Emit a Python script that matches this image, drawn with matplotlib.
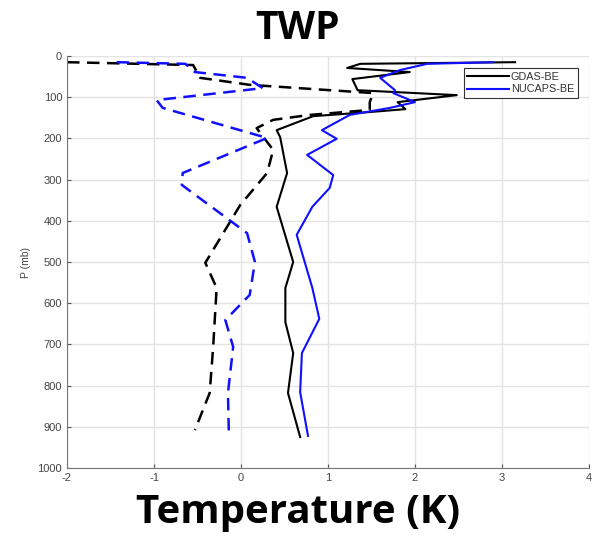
import numpy as np
import matplotlib
matplotlib.use("Agg")
from matplotlib import pyplot as plt

# GDAS-BE (trait plein noir)
P_gdas = [15, 19, 29, 39, 56, 83, 95, 112, 129, 136, 146, 180, 197, 284, 366, 500, 563, 646, 721, 818, 925]
T_gdas = [3.15, 1.37, 1.22, 1.94, 1.28, 1.34, 2.48, 1.80, 1.89, 1.48, 0.83, 0.41, 0.45, 0.53, 0.41, 0.60, 0.51, 0.51, 0.60, 0.54, 0.68]

# NUCAPS-BE (trait plein bleu)
P_nuc = [15, 19, 34, 53, 83, 90, 112, 126, 143, 180, 201, 240, 289, 320, 366, 434, 563, 638, 721, 816, 922]
T_nuc = [2.90, 2.14, 1.83, 1.60, 1.77, 1.75, 2.00, 1.71, 1.25, 0.93, 1.10, 0.76, 1.06, 1.02, 0.82, 0.64, 0.82, 0.90, 0.70, 0.68, 0.77]

# GDAS tirets
P_gdas_d = [15, 22, 53, 70, 90, 112, 131, 143, 155, 175, 228, 284, 362, 502, 563, 706, 818, 908]
T_gdas_d = [-2.0, -0.55, -0.47, 0.10, 1.52, 1.48, 1.48, 0.79, 0.37, 0.18, 0.37, 0.30, -0.01, -0.41, -0.28, -0.32, -0.36, -0.53]

# NUCAPS tirets
P_nuc_d = [15, 19, 39, 53, 78, 107, 126, 199, 284, 313, 430, 500, 580, 641, 706, 818, 913]
T_nuc_d = [-1.43, -0.64, -0.53, 0.07, 0.25, -0.97, -0.90, 0.30, -0.67, -0.68, 0.07, 0.16, 0.10, -0.18, -0.09, -0.15, -0.14]

xticks = [-2, -1, 0, 1, 2, 3, 4]
yticks = np.arange(0, 1001, 100)

plt.rcParams['font.family'] = ['Liberation Sans', 'DejaVu Sans']
plt.rcParams['axes.unicode_minus'] = False

fig = plt.figure(figsize=(5.92, 5.36), dpi=100)
ax = fig.add_axes([67/592, 1-468/536, (589-67)/592, (468-56)/536])

ax.plot(T_gdas_d, P_gdas_d, '--', color='black', lw=1.8, dashes=(5, 3))
ax.plot(T_nuc_d, P_nuc_d, '--', color='#1010ff', lw=1.8, dashes=(5, 3))
ax.plot(T_gdas, P_gdas, '-', color='black', lw=1.5, label='GDAS-BE')
ax.plot(T_nuc, P_nuc, '-', color='#1010ff', lw=1.5, label='NUCAPS-BE')

ax.set_xlim(-2, 4)
ax.set_ylim(1000, 0)
ax.set_xticks(xticks)
ax.set_yticks(yticks)
ax.grid(True, color='#e3e3e3', lw=1.0)
ax.set_axisbelow(True)
ax.tick_params(direction='in', length=3, colors='#555555', labelsize=8, labelcolor='#444444')
for s in ['top', 'right']:
    ax.spines[s].set_visible(False)
for s in ['left', 'bottom']:
    ax.spines[s].set_color('#777777')
ax.set_ylabel('P (mb)', fontsize=7.5, color='#444444', labelpad=5)

leg = ax.legend(loc='upper right', bbox_to_anchor=(0.989, 0.983), fontsize=7.8,
                fancybox=False, framealpha=1, edgecolor='#333333',
                handlelength=3.8, handletextpad=0.2, borderpad=0.35, labelspacing=0.2)
leg.get_frame().set_linewidth(0.8)
for t in leg.get_texts():
    t.set_color('#333333')

fig.text(0.503, 0.946, 'TWP', ha='center', va='center', fontsize=28,
         fontweight='bold', family=['Open Sans', 'DejaVu Sans'])
fig.text(0.503, 0.043, 'Temperature (K)', ha='center', va='center', fontsize=29,
         fontweight='bold', family=['Open Sans', 'DejaVu Sans'])

fig.savefig('out.png', dpi=100)
